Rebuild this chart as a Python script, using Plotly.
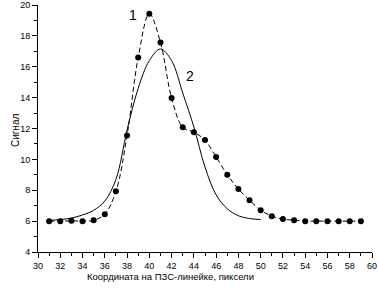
import plotly.graph_objects as go

# Curve 1: measured points (dashed line with markers)
x1 = [31, 32, 33, 34, 35, 36, 37, 38, 39, 40, 41, 42, 43, 44, 45,
      46, 47, 48, 49, 50, 51, 52, 53, 54, 55, 56, 57, 58, 59]
y1 = [6.0, 6.0, 6.02, 6.0, 6.05, 6.45, 7.93, 11.55, 16.6, 19.44, 17.57, 13.98, 12.08, 11.76, 11.25,
      10.15, 9.01, 8.08, 7.35, 6.71, 6.32, 6.13, 6.06, 6.0, 6.0, 6.0, 6.0, 6.0, 6.0]

# Curve 2: smooth solid curve
x2 = [31, 32, 33, 34, 35, 36, 37, 38, 39, 40, 41, 42, 43, 44, 45, 46, 47, 48, 49, 50]
y2 = [6.05, 6.1, 6.2, 6.4, 6.7, 7.3, 8.7, 11.9, 14.6, 16.4, 17.15, 16.4, 14.3, 12.1, 9.5, 7.7, 6.8, 6.35, 6.17, 6.1]

x_ticks = list(range(30, 61, 2))
y_ticks = [4, 6, 8, 10, 12, 14, 16, 18, 20]
y_tick_labels = ["4", "6", "8", "10", "12", "14", "16", "18", "20"]

fig = go.Figure()
fig.add_trace(go.Scatter(
    x=x2, y=y2, mode="lines",
    line=dict(color="black", width=1, shape="spline", smoothing=1.0),
    showlegend=False, hoverinfo="skip"))
fig.add_trace(go.Scatter(
    x=x1, y=y1, mode="lines+markers",
    line=dict(color="black", width=1, dash="5px,3px", shape="spline", smoothing=1.0),
    marker=dict(color="black", size=6, symbol="circle"),
    showlegend=False, hoverinfo="skip"))

fig.add_annotation(x=38.55, y=19.35, text="1", showarrow=False,
                   font=dict(size=14, color="black", family="Liberation Sans"))
fig.add_annotation(x=43.65, y=15.42, text="2", showarrow=False,
                   font=dict(size=14, color="black", family="Liberation Sans"))

# axis titles placed as paper annotations
fig.add_annotation(xref="paper", yref="paper", x=(170 - 37.5) / 335, y=(252 - 284) / 247,
                   text="Координата на ПЗС-линейке, пиксели", showarrow=False,
                   font=dict(size=9.5, color="black", family="Liberation Sans"))
fig.add_annotation(xref="paper", yref="paper", x=(7 - 37.5) / 335, y=(252 - 130) / 247,
                   text="Сигнал", showarrow=False, textangle=-90,
                   font=dict(size=10, color="black", family="Liberation Sans"))

axis_font = dict(family="Liberation Sans", size=9, color="black")
fig.update_layout(
    width=378, height=289,
    margin=dict(l=37.5, r=5.5, t=5, b=37, autoexpand=False),
    paper_bgcolor="white", plot_bgcolor="white",
    xaxis=dict(
        range=[30, 60], tickvals=x_ticks, ticks="outside", ticklen=5, tickcolor="black",
        showline=True, linecolor="black", linewidth=1, showgrid=False, zeroline=False,
        tickfont=axis_font, automargin=False,
        minor=dict(dtick=1, ticks="outside", ticklen=3, tickcolor="black", showgrid=False),
    ),
    yaxis=dict(
        range=[4, 20], tickvals=y_ticks, ticktext=y_tick_labels, ticks="outside", ticklen=5,
        tickcolor="black",
        showline=True, linecolor="black", linewidth=1, showgrid=False, zeroline=False,
        tickfont=axis_font, automargin=False,
        minor=dict(dtick=1, ticks="outside", ticklen=3, tickcolor="black", showgrid=False),
    ),
)

fig.write_html("out.html", config={"displayModeBar": False},
               post_script="document.body.style.margin='0';document.body.style.padding='0';")
